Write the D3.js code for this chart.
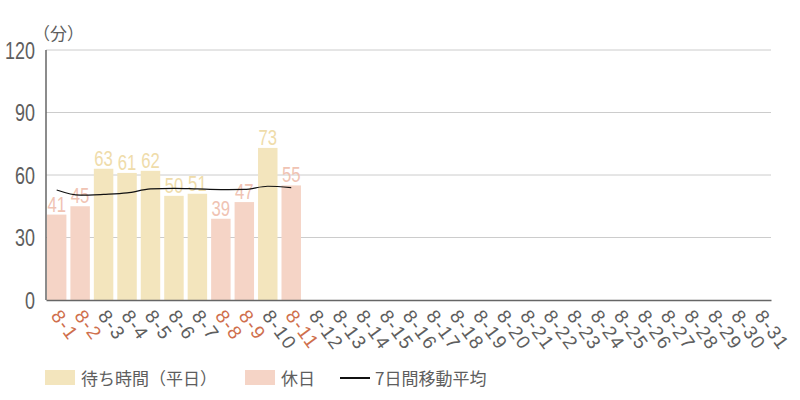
<!DOCTYPE html>
<html><head><meta charset="utf-8">
<script src="https://cdn.jsdelivr.net/npm/d3@7"></script>
<style>body{margin:0;background:#fff}</style>
</head><body>
<svg id="c" width="800" height="400"></svg>
<script>
const categories = ["8-1","8-2","8-3","8-4","8-5","8-6","8-7","8-8","8-9","8-10","8-11","8-12","8-13","8-14","8-15","8-16","8-17","8-18","8-19","8-20","8-21","8-22","8-23","8-24","8-25","8-26","8-27","8-28","8-29","8-30","8-31"];
const waitValues = [41,45,63,61,62,50,51,39,47,73,55];
const holidayFlags = [1,1,0,0,0,0,0,1,1,0,1];
const movingAvg = [52.8,50.3,50.7,51.4,53.3,53.6,53.3,53.0,53.1,54.6,53.9];
const yTicks = [0,30,60,90,120];
const legendLabels = ["待ち時間（平日）","休日","7日間移動平均"];
const yUnit = "（分）";

const C = {weekday:"#f3e5bd", holiday:"#f5d4c6", weekdayText:"#efdcaa", holidayText:"#f0c3b3",
  tickHoliday:"#cf6f4d", text:"#5e5e5e", grid:"#cccccc", axis:"#666666"};

const svg = d3.select("#c");
const L=46,R=771,T=50,B=300;
const x = d3.scaleBand().domain(categories).range([L,R]).paddingInner(0.17).paddingOuter(0.04);
const y = d3.scaleLinear().domain([0,120]).range([B,T]);
const narrow = "'Liberation Sans', Arial, sans-serif";

// grid
svg.append("g").selectAll("line").data(yTicks.filter(d=>d>0)).join("line")
  .attr("x1",L).attr("x2",R).attr("y1",d=>y(d)).attr("y2",d=>y(d))
  .attr("stroke",C.grid).attr("stroke-width",1);

// y axis labels (condensed via horizontal scale)
const yAxis = d3.axisLeft(y).tickValues(yTicks).tickSize(0).tickPadding(0);
const gy = svg.append("g").attr("transform",`translate(${L},0)`).call(yAxis);
gy.select(".domain").remove();
gy.selectAll(".tick text").attr("x",null).attr("dy","0.36em")
  .attr("transform","translate(-11,0) scale(0.78,1)")
  .attr("font-family",narrow).attr("font-size",23).attr("fill",C.text);

svg.append("text").attr("x",33).attr("y",40).text(yUnit)
  .attr("font-family","'Noto Sans CJK JP', sans-serif").attr("font-size",17).attr("fill",C.text);

// bars
const data = waitValues.map((v,i)=>({cat:categories[i],v,h:holidayFlags[i]}));
svg.append("g").selectAll("rect").data(data).join("rect")
  .attr("x",d=>x(d.cat)).attr("width",x.bandwidth())
  .attr("y",d=>y(d.v)).attr("height",d=>y(0)-y(d.v))
  .attr("fill",d=>d.h?C.holiday:C.weekday);

// value labels
svg.append("g").selectAll("text").data(data).join("text")
  .attr("transform",d=>`translate(${x(d.cat)+x.bandwidth()/2},${y(d.v)-3}) scale(0.76,1)`)
  .attr("text-anchor","middle").text(d=>d.v)
  .attr("font-family",narrow).attr("font-size",22)
  .attr("fill",d=>d.h?C.holidayText:C.weekdayText);

// moving average
const line = d3.line().x((d,i)=>x(categories[i])+x.bandwidth()/2).y(d=>y(d)).curve(d3.curveMonotoneX);
svg.append("path").datum(movingAvg).attr("d",line).attr("fill","none").attr("stroke","#111").attr("stroke-width",1.2);

// axes lines
svg.append("line").attr("x1",L).attr("x2",L).attr("y1",T).attr("y2",B).attr("stroke",C.axis).attr("stroke-width",1.5);
const xAxis = d3.axisBottom(x).tickSize(0).tickPadding(0);
const gx = svg.append("g").attr("transform",`translate(0,${B})`).call(xAxis);
gx.select(".domain").attr("stroke",C.axis).attr("stroke-width",1.5);
gx.selectAll(".tick text")
  .attr("font-family","'Liberation Sans', Arial, sans-serif").attr("font-size",19)
  .attr("letter-spacing",1.5)
  .attr("text-anchor","start").attr("y",0)
  .attr("transform","translate(-1,12) rotate(54)").attr("dy","0.35em")
  .attr("fill",(d,i)=>holidayFlags[i]?C.tickHoliday:C.text);

// legend
const lg = svg.append("g").attr("font-family","'Noto Sans CJK JP', sans-serif").attr("font-size",17).attr("fill",C.text);
lg.append("rect").attr("x",45).attr("y",370).attr("width",30).attr("height",15).attr("fill",C.weekday);
lg.append("text").attr("x",81).attr("y",385).text(legendLabels[0]);
lg.append("rect").attr("x",245).attr("y",370).attr("width",30).attr("height",15).attr("fill",C.holiday);
lg.append("text").attr("x",281).attr("y",385).text(legendLabels[1]);
lg.append("line").attr("x1",340).attr("x2",370).attr("y1",378).attr("y2",378).attr("stroke","#111").attr("stroke-width",2);
lg.append("text").attr("x",375).attr("y",385).text(legendLabels[2]);
</script>
</body></html>
